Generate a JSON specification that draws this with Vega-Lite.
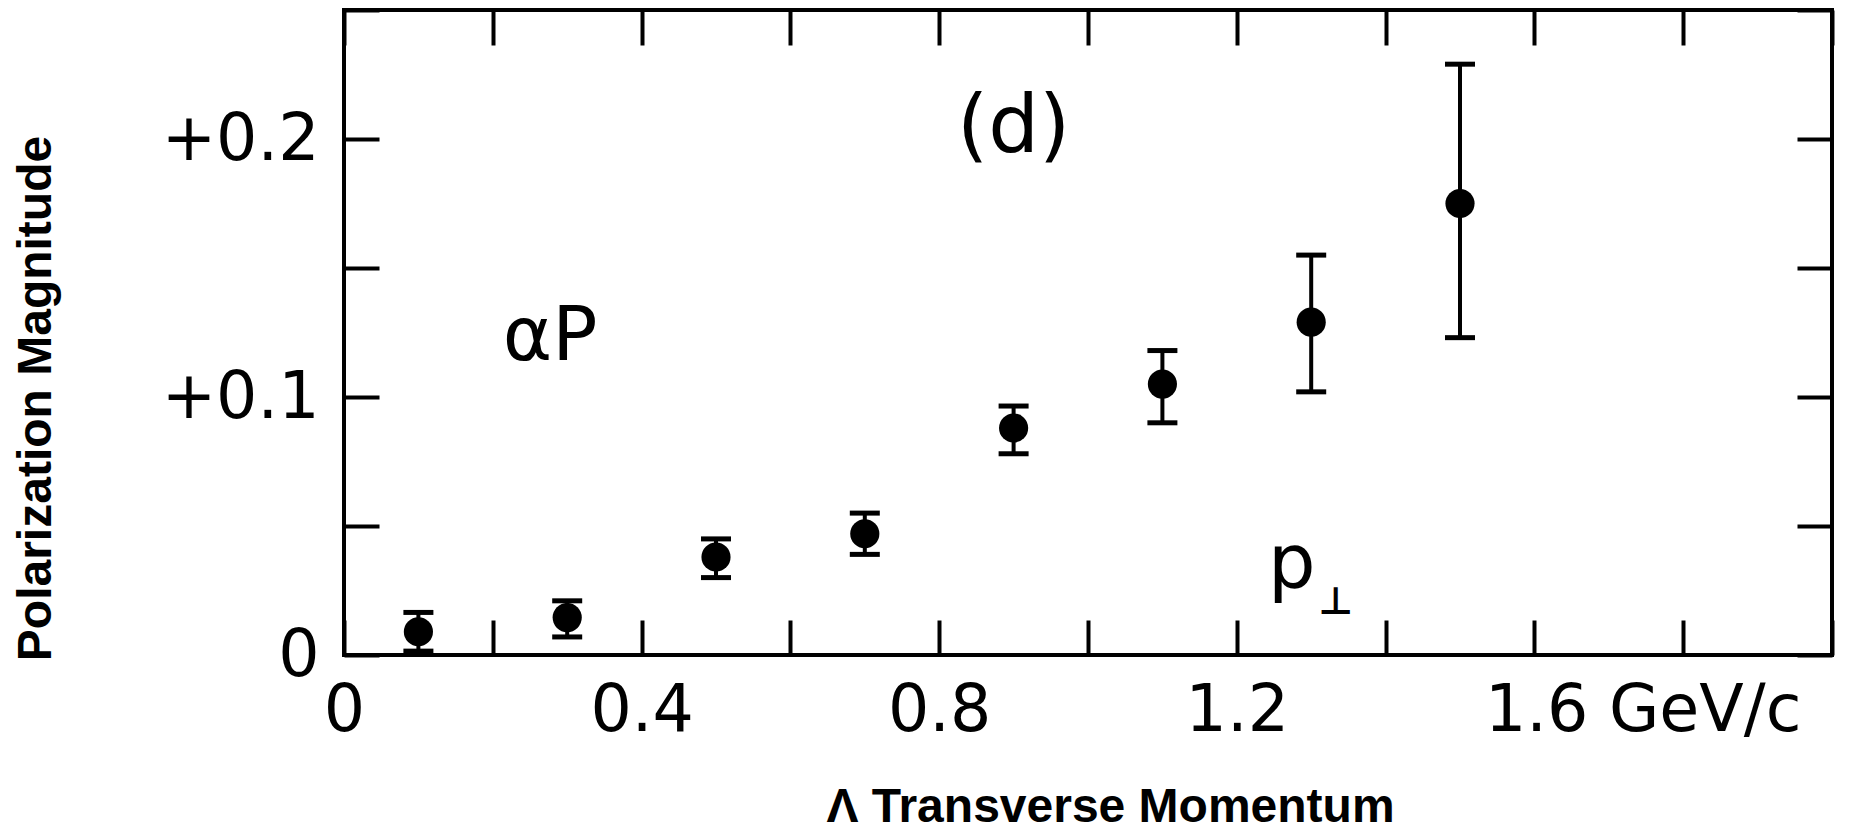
{
  "$schema": "https://vega.github.io/schema/vega-lite/v6.json",
  "width": 1488,
  "height": 645,
  "autosize": {"type": "none"},
  "padding": {"left": 344, "top": 10, "right": 19, "bottom": 177},
  "background": "white",
  "config": {
    "view": {"stroke": "black", "strokeWidth": 4},
    "axis": {
      "domain": false,
      "grid": false,
      "tickColor": "black",
      "tickWidth": 4,
      "tickOpacity": 1,
      "labelColor": "black",
      "labelFont": "DejaVu Sans",
      "labelFontSize": 65,
      "labelOverlap": false,
      "labelFlush": false,
      "labelLimit": 0,
      "titleColor": "black",
      "titleFont": "Liberation Sans",
      "titleFontWeight": "bold",
      "titleFontSize": 48
    },
    "text": {"font": "DejaVu Sans", "color": "black"}
  },
  "datasets": {
    "pol": [
      {"pt": 0.1, "val": 0.009, "lo": 0.0015, "hi": 0.0165},
      {"pt": 0.3, "val": 0.0145, "lo": 0.007, "hi": 0.021},
      {"pt": 0.5, "val": 0.038, "lo": 0.030, "hi": 0.045},
      {"pt": 0.7, "val": 0.047, "lo": 0.039, "hi": 0.055},
      {"pt": 0.9, "val": 0.088, "lo": 0.078, "hi": 0.0965},
      {"pt": 1.1, "val": 0.105, "lo": 0.090, "hi": 0.118},
      {"pt": 1.3, "val": 0.129, "lo": 0.102, "hi": 0.155},
      {"pt": 1.5, "val": 0.175, "lo": 0.123, "hi": 0.229}
    ]
  },
  "layer": [
    {
      "data": {"name": "pol"},
      "mark": {"type": "rule", "color": "black", "strokeWidth": 4, "opacity": 1},
      "encoding": {
        "x": {
          "field": "pt", "type": "quantitative",
          "scale": {"domain": [0, 2], "nice": false, "zero": false},
          "axis": {
            "orient": "bottom",
            "values": [0, 0.2, 0.4, 0.6, 0.8, 1, 1.2, 1.4, 1.6, 1.8, 2],
            "tickSize": -35,
            "labelPadding": 59,
            "labelBaseline": "top",
            "labelExpr": "datum.value == 0 ? '0' : datum.value == 0.4 ? '0.4' : datum.value == 0.8 ? '0.8' : datum.value == 1.2 ? '1.2' : datum.value == 1.6 ? '1.6 GeV/c' : ''",
            "labelAlign": {"condition": {"test": "datum.value == 1.6", "value": "left"}, "value": "center"},
            "labelOffset": {"condition": {"test": "datum.value == 1.6", "value": -50}, "value": 0},
            "title": "Λ Transverse Momentum",
            "titleX": 766,
            "titleY": 166,
            "titleAlign": "center",
            "titleBaseline": "alphabetic"
          }
        },
        "y": {
          "field": "lo", "type": "quantitative",
          "scale": {"domain": [0, 0.25], "nice": false, "zero": false},
          "axis": {
            "orient": "left",
            "values": [0, 0.05, 0.1, 0.15, 0.2, 0.25],
            "tickSize": -35,
            "labelPadding": 60,
            "labelExpr": "datum.value == 0 ? '0' : datum.value == 0.1 ? '+0.1' : datum.value == 0.2 ? '+0.2' : ''",
            "title": "Polarization Magnitude",
            "titleX": -294,
            "titleY": 388,
            "titleAngle": -90,
            "titleAlign": "center",
            "titleBaseline": "alphabetic"
          }
        },
        "y2": {"field": "hi"}
      }
    },
    {
      "data": {"name": "pol"},
      "mark": {"type": "tick", "orient": "horizontal", "color": "black", "opacity": 1, "size": 30, "thickness": 5},
      "encoding": {
        "x": {"field": "pt", "type": "quantitative", "scale": {"domain": [0, 2], "nice": false, "zero": false}, "axis": null},
        "y": {"field": "lo", "type": "quantitative", "scale": {"domain": [0, 0.25], "nice": false, "zero": false}, "axis": null}
      }
    },
    {
      "data": {"name": "pol"},
      "mark": {"type": "tick", "orient": "horizontal", "color": "black", "opacity": 1, "size": 30, "thickness": 5},
      "encoding": {
        "x": {"field": "pt", "type": "quantitative", "scale": {"domain": [0, 2], "nice": false, "zero": false}, "axis": null},
        "y": {"field": "hi", "type": "quantitative", "scale": {"domain": [0, 0.25], "nice": false, "zero": false}, "axis": null}
      }
    },
    {
      "data": {"name": "pol"},
      "mark": {"type": "point", "shape": "circle", "filled": true, "color": "black", "opacity": 1, "size": 850},
      "encoding": {
        "x": {
          "field": "pt", "type": "quantitative",
          "scale": {"domain": [0, 2], "nice": false, "zero": false},
          "axis": {"orient": "top", "values": [0, 0.2, 0.4, 0.6, 0.8, 1, 1.2, 1.4, 1.6, 1.8, 2], "tickSize": -35, "labels": false, "title": null}
        },
        "y": {
          "field": "val", "type": "quantitative",
          "scale": {"domain": [0, 0.25], "nice": false, "zero": false},
          "axis": {"orient": "right", "values": [0, 0.05, 0.1, 0.15, 0.2, 0.25], "tickSize": -35, "labels": false, "title": null}
        }
      }
    },
    {
      "data": {"values": [{"label": "(d)", "px": 0.9, "py": 0.195}]},
      "mark": {"type": "text", "fontSize": 80, "align": "center", "baseline": "alphabetic"},
      "encoding": {
        "x": {"field": "px", "type": "quantitative", "scale": {"domain": [0, 2], "nice": false, "zero": false}, "axis": null},
        "y": {"field": "py", "type": "quantitative", "scale": {"domain": [0, 0.25], "nice": false, "zero": false}, "axis": null},
        "text": {"field": "label"}
      }
    },
    {
      "data": {"values": [{"label": "αP", "px": 0.277, "py": 0.1143}, {"label": "p", "px": 1.274, "py": 0.0264}]},
      "mark": {"type": "text", "fontSize": 75, "align": "center", "baseline": "alphabetic"},
      "encoding": {
        "x": {"field": "px", "type": "quantitative", "scale": {"domain": [0, 2], "nice": false, "zero": false}, "axis": null},
        "y": {"field": "py", "type": "quantitative", "scale": {"domain": [0, 0.25], "nice": false, "zero": false}, "axis": null},
        "text": {"field": "label"}
      }
    },
    {
      "data": {"values": [{"label": "⊥", "px": 1.333, "py": 0.0159}]},
      "mark": {"type": "text", "fontSize": 38, "fontWeight": "bold", "align": "center", "baseline": "alphabetic"},
      "encoding": {
        "x": {"field": "px", "type": "quantitative", "scale": {"domain": [0, 2], "nice": false, "zero": false}, "axis": null},
        "y": {"field": "py", "type": "quantitative", "scale": {"domain": [0, 0.25], "nice": false, "zero": false}, "axis": null},
        "text": {"field": "label"}
      }
    }
  ],
  "resolve": {"axis": {"x": "independent", "y": "independent"}}
}
